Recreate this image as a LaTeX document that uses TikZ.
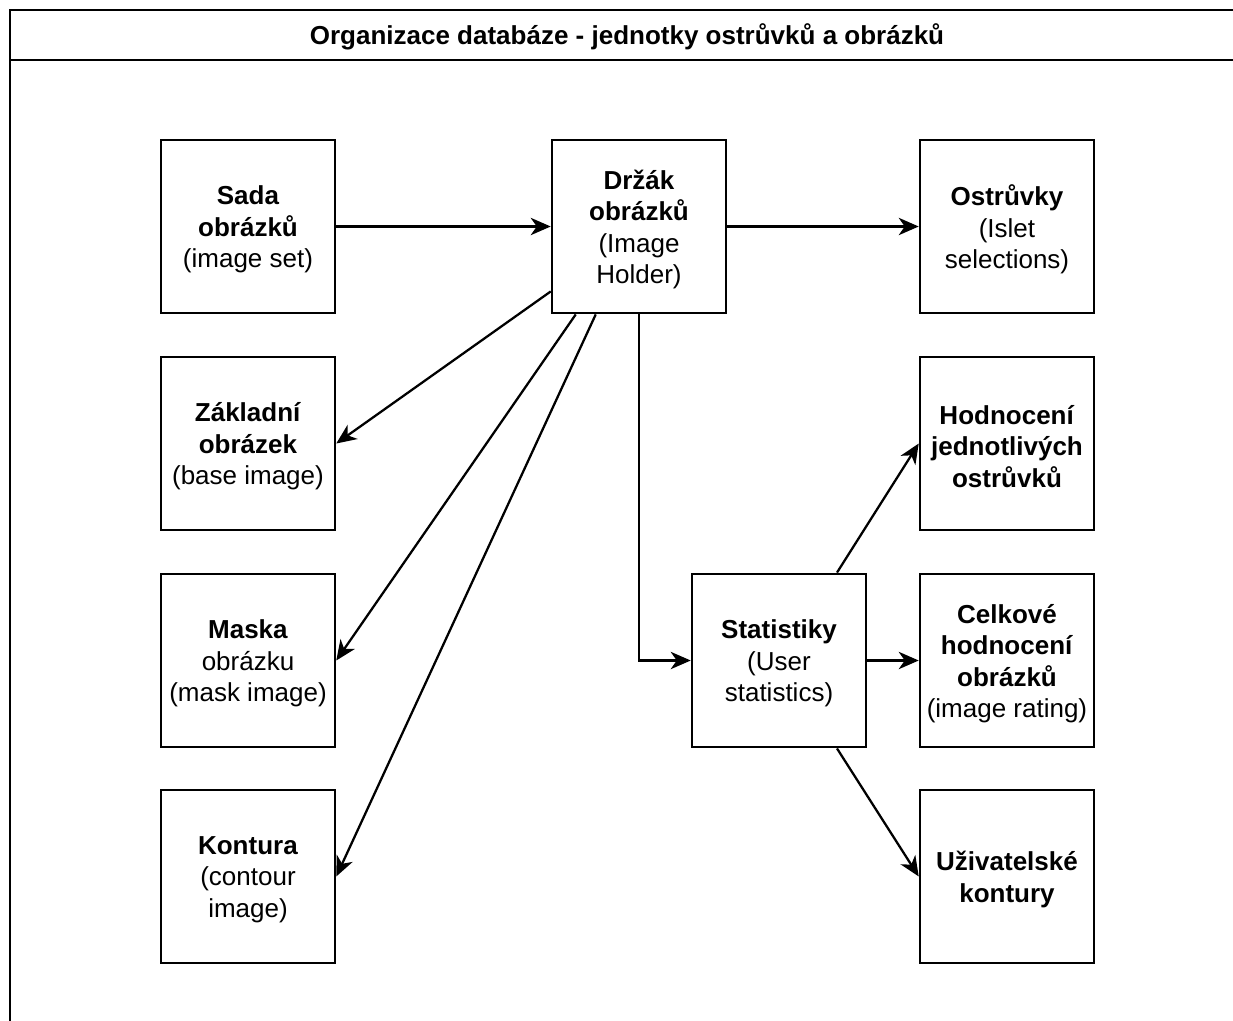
\documentclass[tikz,border=0pt]{standalone}
\usepackage{fontspec}
\setmainfont{Liberation Sans}
\usetikzlibrary{arrows.meta,calc}

\tikzset{
  unit/.style={draw=black, line width=1.9pt, fill=white, minimum width=130.5pt,
    minimum height=130pt, inner sep=0pt, align=center,
    font=\fontsize{19.5}{23.6}\selectfont},
  label text/.style={font=\fontsize{19.5}{23.6}\selectfont, align=center, inner sep=0pt},
  link/.style={line width=1.7pt, -{Stealth[length=15pt, width=13pt, inset=4.5pt]}},
  frame/.style={line width=1.9pt}
}

\begin{document}
\begin{tikzpicture}[x=0.75pt, y=-0.75pt]
  \clip (0,0) rectangle (1233,1021);
  \fill[white] (0,0) rectangle (1233,1021);

  % outer container with its title bar
  \draw[frame] (10,10) rectangle (1245,1050);
  \draw[frame] (10,60) -- (1245,60);
  \node[font=\fontsize{19.5}{23.4}\selectfont\bfseries] (title) at (627,37)
    {Organizace databáze - jednotky ostrůvků a obrázků};

  % units
  \node[unit] (sada) at (248,226.5) {};
  \node[unit] (drzak) at (639,226.5) {};
  \node[unit] (ostr) at (1007,226.5) {};
  \node[unit] (zakl) at (248,443.5) {};
  \node[unit] (maska) at (248,660.5) {};
  \node[unit] (kont) at (248,876.5) {};
  \node[unit] (hodn) at (1007,443.5) {};
  \node[unit] (stat) at (779,660.5) {};
  \node[unit] (celk) at (1007,660.5) {};
  \node[unit] (uziv) at (1007,876.5) {};

  % unit texts, set a little below the geometric centre
  \node[label text] (sada-t) at ($(sada.center)+(0,3)$) {\textbf{Sada}\\\textbf{obrázků}\\(image set)};
  \node[label text] (drzak-t) at ($(drzak.center)+(0,3)$) {\textbf{Držák}\\\textbf{obrázků}\\(Image\\Holder)};
  \node[label text] (ostr-t) at ($(ostr.center)+(0,3)$) {\textbf{Ostrůvky}\\(Islet\\selections)};
  \node[label text] (zakl-t) at ($(zakl.center)+(0,3)$) {\textbf{Základní}\\\textbf{obrázek}\\(base image)};
  \node[label text] (maska-t) at ($(maska.center)+(0,3)$) {\textbf{Maska}\\obrázku\\(mask image)};
  \node[label text] (kont-t) at ($(kont.center)+(0,3)$) {\textbf{Kontura}\\(contour\\image)};
  \node[label text] (hodn-t) at ($(hodn.center)+(0,3)$) {\textbf{Hodnocení}\\\textbf{jednotlivých}\\\textbf{ostrůvků}};
  \node[label text] (stat-t) at ($(stat.center)+(0,3)$) {\textbf{Statistiky}\\(User\\statistics)};
  \node[label text] (celk-t) at ($(celk.center)+(0,3)$) {\textbf{Celkové}\\\textbf{hodnocení}\\\textbf{obrázků}\\(image rating)};
  \node[label text] (uziv-t) at ($(uziv.center)+(0,3)$) {\textbf{Uživatelské}\\\textbf{kontury}};

  % connectors
  \draw[link] (sada.east) -- (drzak.west);
  \draw[link] (drzak.east) -- (ostr.west);
  \draw[link] ($(drzak.south west)+(0,-23)$) -- (zakl.east);
  \draw[link] ($(drzak.south west)+(25,0)$) -- (maska.east);
  \draw[link] ($(drzak.south west)+(45,0)$) -- (kont.east);
  \draw[link] (drzak.south) |- (stat.west);
  \draw[link] ($(stat.north)+(58,0)$) -- (hodn.west);
  \draw[link] (stat.east) -- (celk.west);
  \draw[link] ($(stat.south)+(58,0)$) -- (uziv.west);
\end{tikzpicture}
\end{document}
